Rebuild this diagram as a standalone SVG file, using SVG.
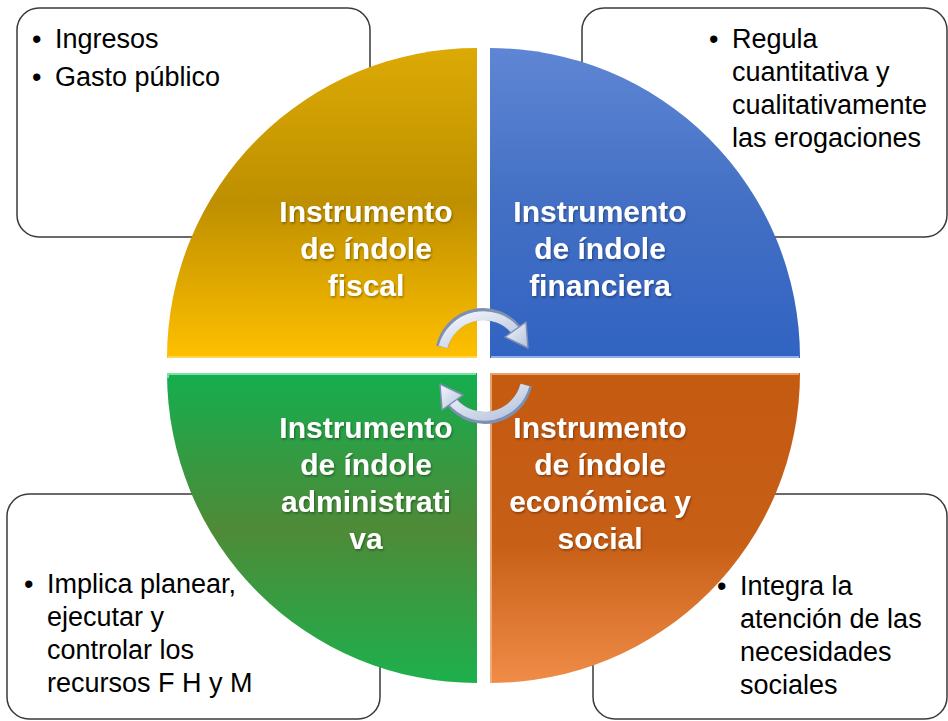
<svg xmlns="http://www.w3.org/2000/svg" width="948" height="721" viewBox="0 0 948 721">
<defs>
<style>
.box{fill:#fff;stroke:#3a3a3a;stroke-width:1.5}
.bt{font-family:"Liberation Sans",Arial,sans-serif;font-size:27px;fill:#000}
.qt{font-family:"Liberation Sans",Arial,sans-serif;font-size:30px;font-weight:bold;fill:#fff;text-anchor:middle}
.edge{fill:none;stroke-width:2;stroke-opacity:0.8}
.arrowOut{fill:none;stroke:#7d8fb3;stroke-width:12;stroke-linecap:butt}
.arrowIn{fill:none;stroke:url(#gArr);stroke-width:9;stroke-linecap:butt}
.head{fill:url(#gArr);stroke:#7d8fb3;stroke-width:1.5;stroke-linejoin:round}
</style>
<linearGradient id="gY" x1="0" y1="48" x2="0" y2="358" gradientUnits="userSpaceOnUse">
<stop offset="0" stop-color="#dcaa05"/><stop offset="0.5" stop-color="#be8f00"/><stop offset="1" stop-color="#ffc000"/>
</linearGradient>
<linearGradient id="gB" x1="0" y1="48" x2="0" y2="358" gradientUnits="userSpaceOnUse">
<stop offset="0" stop-color="#5f86d4"/><stop offset="0.5" stop-color="#4370c4"/><stop offset="1" stop-color="#3163c2"/>
</linearGradient>
<linearGradient id="gG" x1="0" y1="373" x2="0" y2="683" gradientUnits="userSpaceOnUse">
<stop offset="0" stop-color="#14ae4f"/><stop offset="0.5" stop-color="#4f8a37"/><stop offset="1" stop-color="#1db04d"/>
</linearGradient>
<linearGradient id="gO" x1="0" y1="373" x2="0" y2="683" gradientUnits="userSpaceOnUse">
<stop offset="0" stop-color="#c55a11"/><stop offset="0.55" stop-color="#c75f16"/><stop offset="1" stop-color="#f08c48"/>
</linearGradient>
<linearGradient id="gArr" x1="0" y1="0" x2="1" y2="1">
<stop offset="0" stop-color="#f4f7fc"/><stop offset="1" stop-color="#b4c2dc"/>
</linearGradient>
<filter id="sh" x="-10%" y="-10%" width="120%" height="130%">
<feDropShadow dx="1" dy="1.5" stdDeviation="1" flood-color="#000" flood-opacity="0.35"/>
</filter>
</defs>

<g id="box-fiscal">
<rect class="box" x="17" y="8" width="353" height="229" rx="22"/>
<text class="bt" x="32" y="48">•</text><text class="bt" x="55" y="48">Ingresos</text>
<text class="bt" x="32" y="86">•</text><text class="bt" x="55" y="86">Gasto público</text>
</g>
<g id="box-financiera">
<rect class="box" x="582" y="8" width="365" height="229" rx="22"/>
<text class="bt" x="709" y="48">•</text>
<text class="bt" x="732" y="48">Regula</text>
<text class="bt" x="732" y="81">cuantitativa y</text>
<text class="bt" x="732" y="114">cualitativamente</text>
<text class="bt" x="732" y="147">las erogaciones</text>
</g>
<g id="box-administrativa">
<rect class="box" x="7" y="494" width="373" height="225" rx="22"/>
<text class="bt" x="24" y="593">•</text>
<text class="bt" x="47" y="593">Implica planear,</text>
<text class="bt" x="47" y="626">ejecutar y</text>
<text class="bt" x="47" y="659">controlar los</text>
<text class="bt" x="47" y="692">recursos F H y M</text>
</g>
<g id="box-economica">
<rect class="box" x="593" y="494" width="354" height="225" rx="22"/>
<text class="bt" x="717" y="595">•</text>
<text class="bt" x="740" y="595">Integra la</text>
<text class="bt" x="740" y="628">atención de las</text>
<text class="bt" x="740" y="661">necesidades</text>
<text class="bt" x="740" y="694">sociales</text>
</g>

<g id="q-fiscal">
<path d="M477 358 L167 358 A310 310 0 0 1 477 48 Z" fill="url(#gY)"/>
<path class="edge" d="M477 357 L168 357" stroke="#ffd966"/>
<g filter="url(#sh)">
<text class="qt" x="366" y="222">Instrumento</text>
<text class="qt" x="366" y="259">de índole</text>
<text class="qt" x="366" y="296">fiscal</text>
</g>
</g>
<g id="q-financiera">
<path d="M490 358 L490 48 A310 310 0 0 1 800 358 Z" fill="url(#gB)"/>
<path class="edge" d="M491 357 L799 357" stroke="#a8c2f0"/>
<g filter="url(#sh)">
<text class="qt" x="600" y="222">Instrumento</text>
<text class="qt" x="600" y="259">de índole</text>
<text class="qt" x="600" y="296">financiera</text>
</g>
</g>
<g id="q-administrativa">
<path d="M477 373 L477 683 A310 310 0 0 1 167 373 Z" fill="url(#gG)"/>
<path class="edge" d="M476 374 L168 374 L168 378" stroke="#8ff0b8"/>
<g filter="url(#sh)">
<text class="qt" x="366" y="438">Instrumento</text>
<text class="qt" x="366" y="475">de índole</text>
<text class="qt" x="366" y="512">administrati</text>
<text class="qt" x="366" y="549">va</text>
</g>
</g>
<g id="q-economica">
<path d="M490 373 L800 373 A310 310 0 0 1 490 683 Z" fill="url(#gO)"/>
<path class="edge" d="M491 683 L491 374 L799 374" stroke="#f4b183"/>
<g filter="url(#sh)">
<text class="qt" x="600" y="438">Instrumento</text>
<text class="qt" x="600" y="475">de índole</text>
<text class="qt" x="600" y="512">económica y</text>
<text class="qt" x="600" y="549">social</text>
</g>
</g>

<g id="connectors">
<path class="arrowOut" d="M442 347 A42 42 0 0 1 516 330"/>
<path class="arrowIn" d="M443 347 A42 42 0 0 1 516 331"/>
<polygon class="head" points="526,322 528,348 505,337"/>
<path class="arrowOut" d="M526 385 A42 42 0 0 1 452 402"/>
<path class="arrowIn" d="M525 385 A42 42 0 0 1 452 401"/>
<polygon class="head" points="442,410 440,384 463,395"/>
</g>
</svg>
